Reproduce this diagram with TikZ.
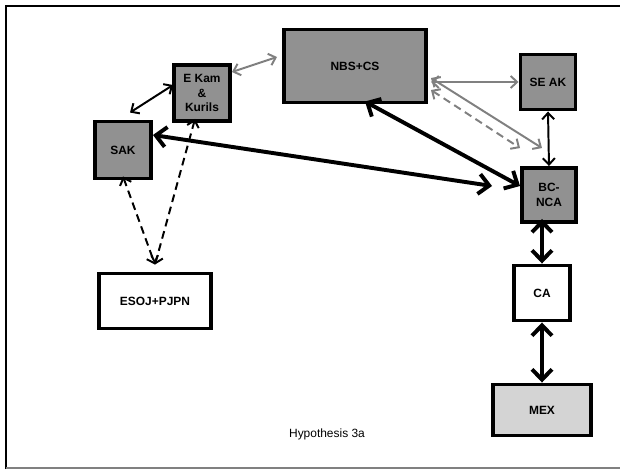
\documentclass[tikz,border=0pt]{standalone}
\usepackage{fontspec}
\setmainfont{Liberation Sans}
\usepackage{tikz}
\usetikzlibrary{arrows.meta,calc}
\definecolor{regfill}{gray}{0.57}
\definecolor{mexfill}{gray}{0.83}
\tikzset{
  reg/.style={draw=black,fill=regfill,line width=2.8pt,align=center,inner sep=1pt,font=\fontsize{8.5}{10.4}\selectfont\bfseries},
  wreg/.style={reg,fill=white},
  lreg/.style={reg,fill=mexfill},
  bigarr/.style={{Straight Barb[length=2.6mm,width=5mm]}-{Straight Barb[length=2.6mm,width=5mm]},line width=2.8pt},
  arr/.style={{Straight Barb[length=1.6mm,width=3mm]}-{Straight Barb[length=1.6mm,width=3mm]},line width=1.4pt},
  garr/.style={arr,draw=gray},
  dsh/.style={dash pattern=on 5.5pt off 3.5pt},
}

\begin{document}
\begin{tikzpicture}[x=0.025cm,y=-0.025cm]
  \useasboundingbox (0,0) rectangle (620,469);
  % frame
  \draw[line width=1.8pt] (6,469) -- (6,6) -- (620,6);
  \draw[gray,line width=0.8pt] (6,468) -- (620,468);
  % regions
  \node[reg,minimum width=1.4cm,minimum height=1.425cm] (sak) at (123,150) {SAK};
  \node[reg,minimum width=1.4cm,minimum height=1.4cm] (ekam) at (202,93) {E Kam\\\&\\Kurils};
  \node[reg,minimum width=3.55cm,minimum height=1.825cm] (nbs) at (355,66) {NBS+CS};
  \node[reg,minimum width=1.375cm,minimum height=1.375cm] (seak) at (548,82) {SE AK};
  \node[reg,minimum width=1.35cm,minimum height=1.35cm] (bcnca) at (549,195) {BC-\\NCA};
  \node[wreg,minimum width=2.8cm,minimum height=1.375cm] (esoj) at (155,301) {ESOJ+PJPN};
  \node[wreg,minimum width=1.4cm,minimum height=1.375cm] (ca) at (542,293) {CA};
  \node[lreg,minimum width=2.45cm,minimum height=1.275cm] (mex) at (542,410) {MEX};
  \node[font=\fontsize{8.5}{10.4}\selectfont] (cap) at (327,434) {Hypothesis 3a};
  % links
  \draw[arr] ($(sak.north)+(7,-7)$) -- ($(ekam.west)+(1,-8)$);
  \draw[garr] ($(ekam.north east)+(0,9)$) -- ($(nbs.west)+(-5,-9)$);
  \draw[bigarr] ($(sak.east)+(0,-15)$) -- ($(bcnca.west)+(-28,-9)$);
  \draw[bigarr] ($(nbs.south)+(10,-3)$) -- ($(bcnca.west)+(0,-9)$);
  \draw[garr] ($(nbs.east)+(3,16)$) -- (seak.west);
  \draw[garr] ($(nbs.east)+(3,12)$) -- ($(bcnca.north)+(-7,-18)$);
  \draw[garr,dsh] ($(nbs.east)+(3,24)$) -- ($(bcnca.north west)+(0,-18)$);
  \draw[arr] (seak.south) -- (bcnca.north);
  \draw[bigarr] ($(ca.north |- bcnca.south)+(0,-5)$) -- (ca.north);
  \draw[bigarr] (ca.south) -- (mex.north);
  \draw[arr,dsh] ($(sak.south)+(0,-4)$) -- ($(esoj.north)+(0,-7)$);
  \draw[arr,dsh] ($(ekam.south)+(-7,-4)$) -- ($(esoj.north)+(0,-7)$);
\end{tikzpicture}
\end{document}
